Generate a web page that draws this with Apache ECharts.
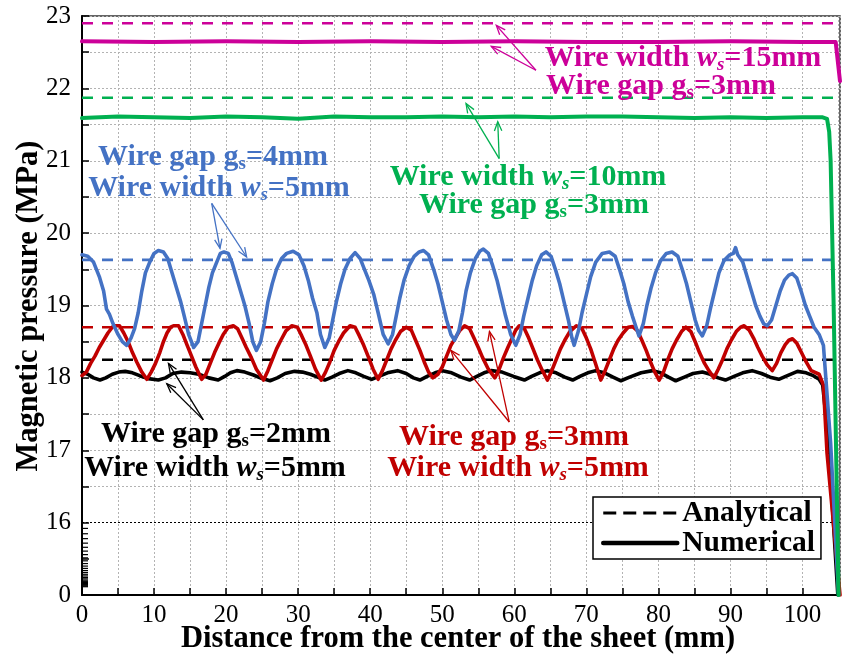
<!DOCTYPE html>
<html>
<head>
<meta charset="utf-8">
<script src="https://cdn.jsdelivr.net/npm/echarts@6/dist/echarts.min.js"></script>
<style>
  html, body { margin: 0; padding: 0; background: #fff; }
  #chart { width: 843px; height: 659px; }
</style>
</head>
<body>
<div id="chart"></div>
<script>
// ---- data (MPa versus mm) ----
const xMax = 105.2;
const yTickValues = [0, 16, 17, 18, 19, 20, 21, 22, 23];

// analytical (constant) pressures for each wire layout
const analyticalWs15 = 22.9;
const analyticalWs10 = 21.87;
const analyticalGs4 = 19.63;
const analyticalGs3 = 18.7;
const analyticalGs2 = 18.25;

// numerical pressure: wire width 15 mm, gap 3 mm
const numericalWs15 = [
  [0, 22.65], [10, 22.64], [20, 22.65], [30, 22.64], [40, 22.65], [50, 22.64],
  [60, 22.65], [70, 22.64], [80, 22.64], [90, 22.65], [100, 22.64], [104.6, 22.64],
  [104.8, 22.62], [105.2, 22.1]
];

// numerical pressure: wire width 10 mm, gap 3 mm
const numericalWs10 = [
  [0, 21.59], [5, 21.61], [10, 21.6], [15, 21.59], [20, 21.61], [25, 21.6], [30, 21.58],
  [35, 21.61], [40, 21.6], [45, 21.6], [50, 21.61], [55, 21.6], [60, 21.61], [65, 21.6],
  [70, 21.61], [75, 21.61], [80, 21.6], [85, 21.59], [90, 21.6], [95, 21.59], [100, 21.6],
  [102.8, 21.6], [103.4, 21.58], [103.7, 21.4], [103.9, 21.0], [104.3, 19.1], [105.0, 0]
];

// numerical pressure: wire gap 4 mm, width 5 mm
const numericalGs4 = [
  [0, 19.70], [0.8, 19.68], [1.6, 19.6], [2.4, 19.4], [3.0, 19.2], [3.4, 18.95], [3.8, 18.88],
  [4.3, 18.75], [5.0, 18.6], [5.6, 18.5], [6.2, 18.45], [6.8, 18.55], [7.3, 18.68], [7.8, 18.9],
  [8.3, 19.2], [8.8, 19.45], [9.4, 19.6], [10.0, 19.72], [10.6, 19.76], [11.3, 19.74], [11.9, 19.65],
  [12.5, 19.45], [13.1, 19.25], [13.7, 19.05], [14.2, 18.85], [14.8, 18.6], [15.5, 18.42], [16.1, 18.5],
  [16.6, 18.75], [17.1, 19.0], [17.6, 19.25], [18.1, 19.45], [18.7, 19.6], [19.2, 19.72], [19.7, 19.74],
  [20.3, 19.72], [20.8, 19.6], [21.4, 19.4], [22.0, 19.2], [22.6, 19.0], [23.2, 18.75], [23.7, 18.5],
  [24.2, 18.38], [24.8, 18.5], [25.3, 18.75], [25.8, 19.05], [26.4, 19.3], [27.0, 19.5], [27.7, 19.65],
  [28.4, 19.72], [29.3, 19.75], [30.1, 19.7], [30.8, 19.55], [31.4, 19.35], [32.0, 19.1], [32.6, 18.9],
  [33.1, 18.6], [33.7, 18.42], [34.3, 18.55], [34.8, 18.8], [35.3, 19.05], [35.9, 19.3], [36.5, 19.5],
  [37.2, 19.65], [37.9, 19.73], [38.6, 19.65], [39.2, 19.5], [39.8, 19.35], [40.5, 19.15], [41.1, 18.9],
  [41.8, 18.6], [42.5, 18.47], [43.1, 18.6], [43.6, 18.85], [44.1, 19.1], [44.7, 19.35], [45.4, 19.55],
  [46.1, 19.68], [46.8, 19.74], [47.4, 19.76], [48.1, 19.7], [48.8, 19.5], [49.4, 19.3], [50.0, 19.05],
  [50.6, 18.8], [51.2, 18.6], [51.7, 18.52], [52.3, 18.65], [52.8, 18.9], [53.3, 19.2], [53.9, 19.45],
  [54.6, 19.65], [55.2, 19.75], [55.7, 19.78], [56.4, 19.72], [57.0, 19.55], [57.6, 19.35], [58.2, 19.1],
  [58.8, 18.85], [59.5, 18.6], [60.2, 18.45], [60.8, 18.6], [61.3, 18.85], [61.9, 19.1], [62.5, 19.35],
  [63.1, 19.55], [63.8, 19.7], [64.4, 19.74], [65.1, 19.68], [65.7, 19.5], [66.3, 19.3], [66.9, 19.05],
  [67.5, 18.8], [68.0, 18.55], [68.3, 18.45], [68.9, 18.65], [69.4, 18.9], [70.0, 19.15], [70.6, 19.4],
  [71.3, 19.6], [72.2, 19.72], [73.2, 19.74], [74.0, 19.68], [74.6, 19.5], [75.2, 19.3], [75.8, 19.05],
  [76.4, 18.85], [76.9, 18.7], [77.3, 18.58], [77.9, 18.75], [78.4, 19.0], [79.0, 19.25], [79.6, 19.45],
  [80.3, 19.62], [81.1, 19.72], [81.9, 19.74], [82.7, 19.68], [83.3, 19.5], [83.9, 19.3], [84.5, 19.05],
  [85.1, 18.8], [85.6, 18.65], [86.1, 18.58], [86.7, 18.72], [87.2, 18.95], [87.8, 19.2], [88.4, 19.45],
  [89.1, 19.62], [89.9, 19.7], [90.4, 19.72], [90.7, 19.8], [91.0, 19.7], [91.7, 19.6], [92.3, 19.4],
  [92.9, 19.2], [93.5, 19.0], [94.1, 18.85], [94.6, 18.75], [95.1, 18.72], [95.7, 18.8], [96.3, 19.0],
  [96.9, 19.2], [97.5, 19.35], [98.1, 19.42], [98.6, 19.44], [99.2, 19.38], [99.8, 19.2], [100.4, 19.0],
  [101.0, 18.85], [101.6, 18.7], [102.3, 18.6], [102.9, 18.45], [103.9, 17.1], [105.0, 0]
];

// numerical pressure: wire gap 3 mm, width 5 mm
const numericalGs3 = [
  [0, 18.03], [0.6, 18.08], [1.2, 18.2], [1.8, 18.3], [2.4, 18.42], [3.0, 18.52], [3.6, 18.62],
  [4.2, 18.7], [4.6, 18.72], [5.2, 18.72], [5.8, 18.62], [6.4, 18.5], [7.0, 18.35], [7.6, 18.22],
  [8.3, 18.08], [9.0, 17.98], [9.6, 18.08], [10.2, 18.2], [10.8, 18.35], [11.3, 18.5], [11.8, 18.62],
  [12.3, 18.7], [12.7, 18.72], [13.4, 18.72], [14.0, 18.6], [14.6, 18.45], [15.2, 18.3], [15.8, 18.15],
  [16.6, 17.98], [17.2, 18.05], [17.8, 18.2], [18.4, 18.35], [19.0, 18.48], [19.6, 18.6], [20.3, 18.7],
  [21.0, 18.72], [21.6, 18.68], [22.2, 18.55], [22.8, 18.42], [23.5, 18.28], [24.2, 18.12], [25.2, 17.97],
  [25.8, 18.1], [26.4, 18.25], [27.0, 18.4], [27.6, 18.52], [28.3, 18.65], [29.1, 18.72], [29.9, 18.7],
  [30.5, 18.58], [31.1, 18.45], [31.7, 18.3], [32.4, 18.12], [33.2, 17.97], [33.8, 18.08], [34.4, 18.22],
  [35.0, 18.38], [35.6, 18.5], [36.3, 18.62], [37.2, 18.72], [37.9, 18.7], [38.5, 18.58], [39.1, 18.45],
  [39.7, 18.3], [40.4, 18.12], [41.1, 17.98], [41.7, 18.1], [42.3, 18.25], [42.9, 18.4], [43.5, 18.52],
  [44.2, 18.64], [45.0, 18.7], [45.7, 18.66], [46.3, 18.52], [46.9, 18.38], [47.5, 18.22], [48.1, 18.08],
  [48.7, 18.0], [49.4, 18.05], [50.0, 18.15], [50.6, 18.3], [51.2, 18.45], [51.8, 18.55], [52.4, 18.65],
  [53.1, 18.72], [53.8, 18.68], [54.4, 18.55], [55.0, 18.42], [55.6, 18.28], [56.4, 18.12], [57.3, 18.0],
  [57.9, 18.12], [58.5, 18.28], [59.1, 18.42], [59.7, 18.55], [60.2, 18.66], [60.7, 18.72], [61.4, 18.68],
  [62.0, 18.55], [62.6, 18.4], [63.2, 18.25], [63.9, 18.1], [64.6, 17.97], [65.2, 18.1], [65.8, 18.25],
  [66.4, 18.4], [67.0, 18.52], [67.7, 18.64], [68.6, 18.72], [69.4, 18.68], [70.0, 18.55], [70.6, 18.4],
  [71.2, 18.22], [72.0, 17.97], [72.6, 18.1], [73.2, 18.25], [73.8, 18.4], [74.4, 18.52], [75.1, 18.62],
  [75.8, 18.7], [76.4, 18.71], [77.1, 18.65], [77.7, 18.52], [78.3, 18.38], [78.9, 18.22], [79.5, 18.08],
  [80.1, 17.97], [80.7, 18.08], [81.3, 18.25], [81.9, 18.4], [82.5, 18.52], [83.2, 18.64], [83.8, 18.7],
  [84.5, 18.64], [85.1, 18.5], [85.7, 18.35], [86.4, 18.2], [87.0, 18.1], [87.7, 18.0], [88.3, 18.12],
  [88.9, 18.25], [89.5, 18.4], [90.1, 18.52], [90.8, 18.64], [91.4, 18.7], [91.9, 18.72], [92.6, 18.66],
  [93.2, 18.55], [93.8, 18.42], [94.4, 18.3], [95.1, 18.18], [95.8, 18.1], [96.4, 18.2], [97.0, 18.35],
  [97.6, 18.46], [98.1, 18.52], [98.6, 18.54], [99.2, 18.48], [99.8, 18.36], [100.5, 18.22], [101.2, 18.1],
  [102.3, 18.05], [102.9, 17.9], [103.4, 16.96], [105.2, 0]
];

// numerical pressure: wire gap 2 mm, width 5 mm
const numericalGs2 = [
  [0, 18.08], [0.8, 18.05], [1.6, 18.0], [2.5, 17.97], [3.3, 18.0], [4.2, 18.05], [5.1, 18.08],
  [6.0, 18.09], [7.0, 18.07], [8.0, 18.03], [9.2, 17.99], [10.6, 17.97], [11.6, 18.0], [12.6, 18.06],
  [13.8, 18.08], [15.0, 18.07], [16.2, 18.05], [17.6, 18.0], [18.9, 17.97], [19.8, 18.02], [20.6, 18.07],
  [21.5, 18.1], [22.6, 18.08], [23.8, 18.04], [25.0, 17.99], [26.1, 17.96], [27.1, 18.0], [28.2, 18.06],
  [29.5, 18.09], [30.6, 18.08], [31.7, 18.05], [32.7, 18.01], [33.7, 17.97], [34.7, 18.01], [35.7, 18.06],
  [36.9, 18.1], [38.0, 18.07], [39.1, 18.02], [40.2, 17.98], [41.2, 18.02], [42.4, 18.07], [43.8, 18.1],
  [45.0, 18.06], [46.0, 18.0], [46.9, 17.97], [47.9, 18.02], [49.0, 18.07], [50.0, 18.1], [51.3, 18.07],
  [52.6, 18.01], [53.8, 17.97], [54.8, 18.02], [55.8, 18.07], [56.8, 18.1], [58.3, 18.08], [59.9, 18.02],
  [61.4, 17.97], [62.4, 18.02], [63.5, 18.07], [64.6, 18.1], [65.8, 18.07], [67.0, 18.01], [68.1, 17.97],
  [69.1, 18.02], [70.2, 18.07], [71.3, 18.1], [72.5, 18.07], [73.7, 18.01], [74.8, 17.96], [76.0, 18.01],
  [77.6, 18.07], [79.2, 18.1], [80.3, 18.07], [81.4, 18.01], [82.4, 17.96], [83.6, 18.01], [84.8, 18.06],
  [86.1, 18.08], [87.2, 18.05], [88.3, 18.0], [89.3, 17.97], [90.5, 18.02], [91.7, 18.07], [93.0, 18.1],
  [94.3, 18.06], [95.5, 18.01], [96.7, 17.98], [97.9, 18.03], [99.3, 18.09], [100.5, 18.07], [101.5, 18.03],
  [102.3, 17.98], [102.8, 17.9], [103.6, 17.12], [104.9, 0]
];

// ---- styling ----
const FONT = '"Liberation Serif", "Times New Roman", serif';
const MAGENTA = '#cc0099';
const GREEN = '#00b050';
const BLUE = '#4472c4';
const RED = '#c00000';
const BLACK = '#000000';
const GRID_GRAY = '#b3b3b3';

// broken y scale: 0..16 MPa squeezed into one unit, 1 unit per MPa above 16
function toAxis(v) { return v >= 16 ? v - 15 : v / 16; }
function fromAxis(p) { return p >= 1 ? p + 15 : p * 16; }
function mapPoints(pts) { return pts.map(([x, v]) => [x, toAxis(v)]); }
function flatLine(v) { return [[0, toAxis(v)], [xMax, toAxis(v)]]; }

const yMaxAxis = toAxis(yTickValues[yTickValues.length - 1]);

// split-line colours, one for every half-unit line from bottom to top
const ySplitColors = [];
for (let p = 0; p <= yMaxAxis + 1e-9; p += 0.5) {
  if (p < 0.75) ySplitColors.push('rgba(0,0,0,0)');
  else if (Math.abs(p - 1) < 1e-9) ySplitColors.push('#000');
  else ySplitColors.push(GRID_GRAY);
}

function dashed(name, v, color) {
  return {
    name, type: 'line', data: flatLine(v), symbol: 'none', silent: true,
    itemStyle: { color },
    lineStyle: { color, width: 2.6, type: [11, 9] }, z: 3
  };
}
function solid(name, pts, color, width) {
  return {
    name, type: 'line', data: mapPoints(pts), symbol: 'none', silent: true,
    itemStyle: { color },
    lineStyle: { color, width: width || 3.6, join: 'round', cap: 'round' }, z: 4
  };
}

const chart = echarts.init(document.getElementById('chart'), null, { renderer: 'canvas' });

chart.setOption({
  animation: false,
  backgroundColor: '#fff',
  grid: {
    left: 82, right: 2, top: 16, bottom: 64,
    show: true, borderColor: '#333', borderWidth: 1.5, backgroundColor: '#fff'
  },
  legend: {
    data: [
      { name: 'Analytical', lineStyle: { width: 3, type: [13, 7] } },
      { name: 'Numerical', lineStyle: { width: 4.5 } }
    ],
    orient: 'vertical',
    left: 593, top: 497,
    itemWidth: 74, itemHeight: 12, itemGap: 0,
    padding: [1, 6, 1, 8],
    borderColor: '#000', borderWidth: 1.5, backgroundColor: '#fff',
    selectedMode: false,
    itemStyle: { opacity: 0 },
    textStyle: { fontFamily: FONT, fontWeight: 'bold', fontSize: 29.5, lineHeight: 28, color: '#000' }
  },
  xAxis: {
    type: 'value', min: 0, max: xMax, interval: 5,
    axisLine: { lineStyle: { color: '#000', width: 2 } },
    axisTick: { inside: true, length: 7, lineStyle: { color: '#000', width: 1.5 } },
    axisLabel: {
      margin: 8, fontFamily: FONT, fontSize: 25, color: '#000',
      formatter: v => (Math.round(v) % 10 === 0 ? String(Math.round(v)) : '')
    },
    splitLine: { show: true, lineStyle: { color: GRID_GRAY, width: 1, type: [2, 2] } }
  },
  yAxis: {
    type: 'value', min: 0, max: yMaxAxis, interval: 0.5,
    axisLine: { lineStyle: { color: '#000', width: 2 } },
    axisTick: { inside: true, length: 7, lineStyle: { color: '#000', width: 1.5 } },
    axisLabel: {
      margin: 11, fontFamily: FONT, fontSize: 25, color: '#000',
      formatter: p => (Math.abs(p - Math.round(p)) > 1e-6 ? '' : String(Math.round(fromAxis(p))))
    },
    splitLine: { show: true, lineStyle: { color: ySplitColors, width: 1, type: [2, 2] } }
  },
  series: [
    dashed('ws15 analytical', analyticalWs15, MAGENTA),
    dashed('ws10 analytical', analyticalWs10, GREEN),
    dashed('gs4 analytical', analyticalGs4, BLUE),
    dashed('gs3 analytical', analyticalGs3, RED),
    dashed('Analytical', analyticalGs2, BLACK),
    solid('Numerical', numericalGs2, BLACK),
    solid('gs3 numerical', numericalGs3, RED),
    solid('gs4 numerical', numericalGs4, BLUE),
    solid('ws10 numerical', numericalWs10, GREEN, 4),
    solid('ws15 numerical', numericalWs15, MAGENTA, 4)
  ]
});

// ---- annotations ----
const baseRich = color => ({
  t: { fontFamily: FONT, fontWeight: 'bold', fontSize: 30, lineHeight: 34, fill: color, verticalAlign: 'middle' },
  i: { fontFamily: FONT, fontWeight: 'bold', fontStyle: 'italic', fontSize: 30, lineHeight: 34, fill: color, verticalAlign: 'middle' },
  si: { fontFamily: FONT, fontWeight: 'bold', fontStyle: 'italic', fontSize: 19, lineHeight: 19, fill: color, verticalAlign: 'bottom' },
  s: { fontFamily: FONT, fontWeight: 'bold', fontSize: 19, lineHeight: 19, fill: color, verticalAlign: 'bottom' }
});
const widthText = w => '{t|Wire width }{i|w}{si|s}{t|=' + w + 'mm}';
const gapText = g => '{t|Wire gap g}{s|s}{t|=' + g + 'mm}';

const labelLines = [
  { text: widthText(15), cx: 683, cy: 58, color: MAGENTA },
  { text: gapText(3), cx: 661, cy: 86, color: MAGENTA },
  { text: widthText(10), cx: 528, cy: 177, color: GREEN },
  { text: gapText(3), cx: 534, cy: 205, color: GREEN },
  { text: gapText(4), cx: 213, cy: 157, color: BLUE },
  { text: widthText(5), cx: 219, cy: 188, color: BLUE },
  { text: gapText(2), cx: 216, cy: 434, color: BLACK },
  { text: widthText(5), cx: 215, cy: 468, color: BLACK },
  { text: gapText(3), cx: 514, cy: 437, color: RED },
  { text: widthText(5), cx: 518, cy: 468, color: RED }
];

// arrow tails and heads in data units (mm, MPa)
const arrows = [
  { color: MAGENTA, from: [63.0, 22.25], to: [[57.5, 22.87], [56.8, 22.58]] },
  { color: GREEN, from: [57.9, 21.03], to: [[53.3, 21.79], [57.7, 21.54]] },
  { color: BLUE, from: [18.0, 20.41], to: [[19.15, 19.79], [22.85, 19.67]] },
  { color: BLACK, from: [16.84, 17.42], to: [[12.0, 18.2], [11.77, 17.92]] },
  { color: RED, from: [59.3, 17.39], to: [[51.2, 18.38], [56.55, 18.64]] }
];

const px = (x, v) => chart.convertToPixel({ gridIndex: 0 }, [x, toAxis(v)]);
const graphics = [];

labelLines.forEach(l => {
  graphics.push({
    type: 'text', x: l.cx, y: l.cy, z: 20,
    style: { text: l.text, rich: baseRich(l.color), align: 'center', verticalAlign: 'middle', fill: l.color }
  });
});

arrows.forEach(a => {
  const p0 = px(a.from[0], a.from[1]);
  a.to.forEach(t => {
    const p1 = px(t[0], t[1]);
    const ang = Math.atan2(p1[1] - p0[1], p1[0] - p0[0]);
    const head = 10, spread = 0.38;
    const h1 = [p1[0] - head * Math.cos(ang - spread), p1[1] - head * Math.sin(ang - spread)];
    const h2 = [p1[0] - head * Math.cos(ang + spread), p1[1] - head * Math.sin(ang + spread)];
    graphics.push({ type: 'line', z: 20, shape: { x1: p0[0], y1: p0[1], x2: p1[0], y2: p1[1] },
      style: { stroke: a.color, lineWidth: 1.3 } });
    graphics.push({ type: 'polyline', z: 20, shape: { points: [h1, p1, h2] },
      style: { stroke: a.color, lineWidth: 1.3, fill: null } });
  });
});

// compressed-range ticks between 0 and 16 on the y axis
const yAxisX = px(0, 16)[0];
let pos = 1, gap = 0.08;
for (let k = 0; k < 26; k++) {
  pos -= gap; gap *= 0.92;
  if (pos <= 0) break;
  const py = chart.convertToPixel({ gridIndex: 0 }, [0, pos])[1];
  graphics.push({ type: 'line', z: 15, shape: { x1: yAxisX, y1: py, x2: yAxisX + 6, y2: py },
    style: { stroke: '#000', lineWidth: 1.2 } });
}

// axis titles
graphics.push({
  type: 'text', x: 458, y: 639, z: 20,
  style: { text: 'Distance from the center of the sheet (mm)', align: 'center', verticalAlign: 'middle',
    font: 'bold 30.5px ' + FONT, fill: '#000' }
});
graphics.push({
  type: 'text', x: 29, y: 306, rotation: Math.PI / 2, z: 20,
  style: { text: 'Magnetic pressure (MPa)', align: 'center', verticalAlign: 'middle',
    font: 'bold 30.5px ' + FONT, fill: '#000' }
});

chart.setOption({ graphic: graphics });
</script>
</body>
</html>
